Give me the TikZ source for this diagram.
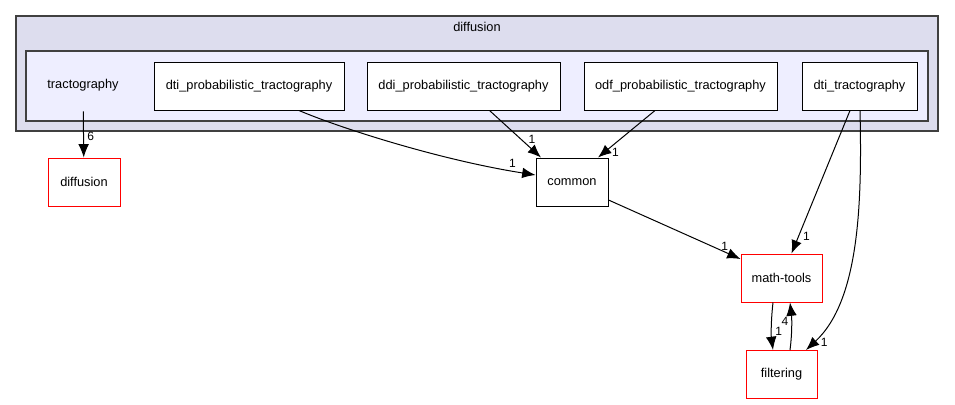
\documentclass[tikz,border=0pt]{standalone}
\usepackage{fontspec}
\setmainfont{Liberation Sans}
\usepackage{tikz}
\usetikzlibrary{arrows.meta, positioning, calc}
\definecolor{clusterouter}{RGB}{221, 221, 238}
\definecolor{clusterinner}{RGB}{238, 238, 255}
\definecolor{clusterline}{RGB}{64, 64, 64}

\begin{document}
\begin{tikzpicture}[
    x=0.75pt, y=-0.75pt,
    font=\fontsize{9.6pt}{11pt}\selectfont,
    cluster/.style={rectangle, draw=clusterline, line width=0.8pt, inner sep=0pt},
    dirbox/.style={rectangle, draw=black, line width=0.75pt, fill=white,
                minimum height=36pt, inner sep=0pt, text centered},
    extbox/.style={dirbox, draw=red},
    dep/.style={-{Latex[length=10pt, width=8pt]}, line width=0.75pt},
    cnt/.style={font=\fontsize{9pt}{10pt}\selectfont, inner sep=1pt}
]
    \useasboundingbox (0,0) rectangle (955,404);

    % Clusters
    \node[cluster, fill=clusterouter, minimum width=691.5pt, minimum height=86.25pt] (outer) at (477,73.5) {};
    \node at (477,27) {diffusion};
    \node[cluster, fill=clusterinner, minimum width=676.5pt, minimum height=52.5pt] (inner) at (477,86) {};
    \node[minimum height=39pt, inner sep=0pt] (tract) at (83,85) {tractography};

    % Sub directories
    \node[dirbox, minimum width=142.5pt] (dtiprob) at (249,86) {dti\_probabilistic\_tractography};
    \node[dirbox, minimum width=144.75pt] (ddiprob) at (463.5,86) {ddi\_probabilistic\_tractography};
    \node[dirbox, minimum width=144.75pt] (odfprob) at (680.5,86) {odf\_probabilistic\_tractography};
    \node[dirbox, minimum width=86.25pt] (dtitract) at (859.5,86) {dti\_tractography};

    % Outside directories
    \node[extbox, minimum width=54pt] (diffusion) at (84,182) {diffusion};
    \node[dirbox, minimum width=54pt] (common) at (572,182) {common};
    \node[extbox, minimum width=60.75pt] (mathtools) at (781.5,278) {math-tools};
    \node[extbox, minimum width=53.25pt] (filtering) at (781.5,374.5) {filtering};

    % Dependencies
    \draw[dep] (tract) -- (diffusion) node[cnt, pos=0.55, right, xshift=1.5pt] {6};
    \draw[dep] ($(dtiprob.south)+(50,0)$) .. controls (340,128) and (440,160) .. ($(common.west)+(0,-7)$)
        node[cnt, pos=0.92, above, yshift=1pt] {1};
    \draw[dep] ($(ddiprob.south)+(26,0)$) -- ($(common.north)+(-31,0)$)
        node[cnt, pos=0.62, right, xshift=4pt] {1};
    \draw[dep] ($(odfprob.south)+(-25.5,0)$) -- ($(common.north)+(26,0)$)
        node[cnt, pos=0.9, right, xshift=5pt] {1};
    \draw[dep] ($(common.east)+(0,18)$) -- ($(mathtools.west)+(0,-19)$) node[cnt, pos=0.88, above] {1};
    \draw[dep] ($(dtitract.south)+(-9.5,0)$) -- ($(mathtools.north)+(10,0)$)
        node[cnt, pos=0.88, right, xshift=2pt] {1};
    \draw[dep] ($(dtitract.south)+(0.5,0)$) .. controls (862,200) and (860,300) .. ($(filtering.north)+(24.5,0)$)
        node[cnt, pos=0.95, right, xshift=4pt] {1};
    \draw[dep] ($(mathtools.south)+(-8.5,0)$) .. controls (771,320) and (771,335) .. ($(filtering.north)+(-8.5,0)$)
        node[cnt, pos=0.6, right, xshift=1.5pt] {1};
    \draw[dep] ($(filtering.north)+(8.5,0)$) .. controls (792,335) and (792,320) .. ($(mathtools.south)+(8.5,0)$)
        node[cnt, pos=0.62, left, xshift=-1pt] {4};

\end{tikzpicture}
\end{document}
